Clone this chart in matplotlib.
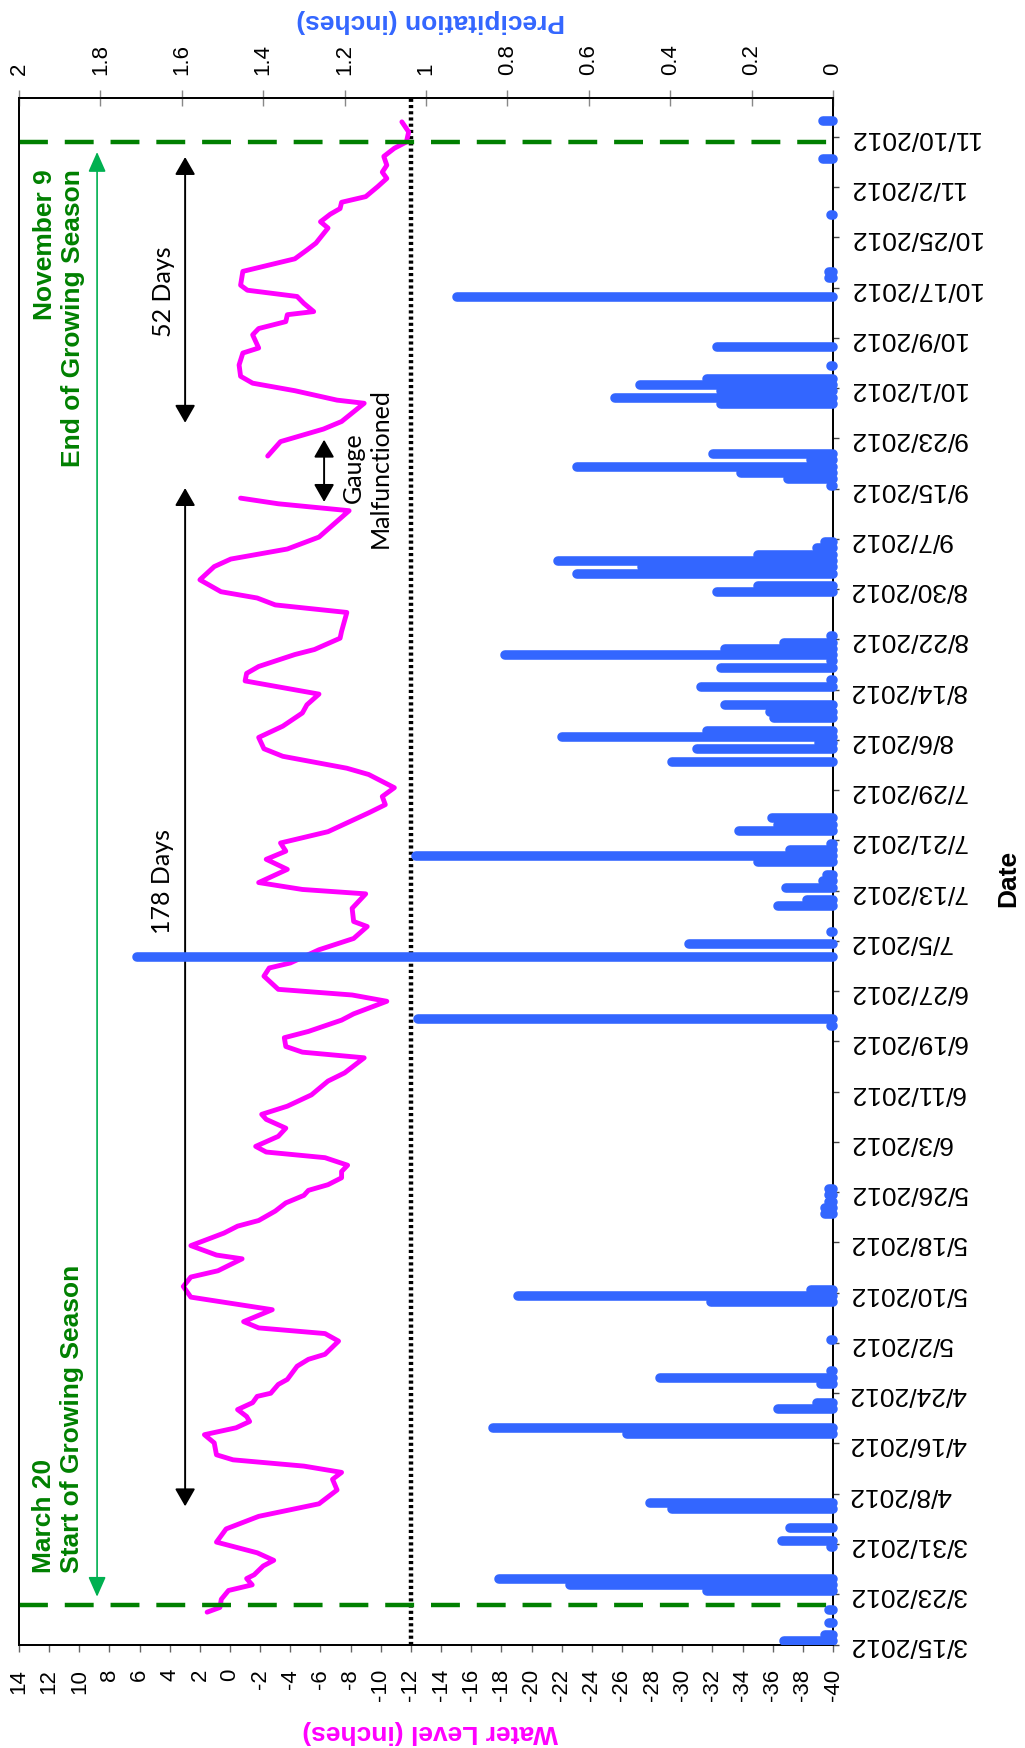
import numpy as np
import matplotlib
matplotlib.use("Agg")
import matplotlib.pyplot as plt
from matplotlib.patches import FancyArrowPatch, Rectangle

# ---------------------------------------------------------------
# Data (day values are counted from 3/15/2012)
# ---------------------------------------------------------------
# Daily precipitation totals (inches)
precip_day = [0, 1, 3, 5, 8, 9, 10, 15, 16, 18, 21, 22, 33, 34, 37, 38, 41, 42, 43, 48,
              54, 55, 56, 68, 69, 70, 71, 72, 98, 99, 109, 111, 113, 117, 118, 120, 121, 122,
              124, 125, 126, 127, 129, 130, 131, 140, 142, 143, 144, 145, 147, 148, 149,
              152, 153, 155, 156, 157, 158, 159, 160, 167, 168, 170, 171, 172, 173, 174, 175,
              184, 185, 186, 187, 188, 189, 197, 198, 199, 200, 201, 203, 206, 214, 217, 218,
              227, 236, 242]
precip_in = [0.12, 0.02, 0.01, 0.01, 0.31, 0.645, 0.82, 0.005, 0.125, 0.105, 0.395, 0.45,
             0.505, 0.835, 0.135, 0.04, 0.03, 0.425, 0.005, 0.005, 0.30, 0.775, 0.055,
             0.02, 0.02, 0.01, 0.01, 0.01, 0.005, 1.02, 1.71, 0.355, 0.005, 0.135, 0.065,
             0.115, 0.025, 0.015, 0.185, 1.025, 0.105, 0.005, 0.23, 0.135, 0.15, 0.395,
             0.335, 0.035, 0.665, 0.31, 0.145, 0.155, 0.265, 0.325, 0.005, 0.275, 0.005,
             0.805, 0.265, 0.12, 0.005, 0.285, 0.185, 0.63, 0.47, 0.675, 0.185, 0.04, 0.02,
             0.005, 0.11, 0.225, 0.63, 0.055, 0.295, 0.275, 0.535, 0.275, 0.475, 0.31,
             0.005, 0.285, 0.925, 0.01, 0.01, 0.005, 0.025, 0.025]

# Water level record (inches); NaN marks the gauge outage
wl_day = [5.15, 5.9, 7.2, 8.6, 9.5, 10.5, 11.1, 12.5, 13.4, 14.6, 16.3, 18.4, 20.4, 21.6,
          22.4, 24.6, 26.3, 27.4, 28.4, 29.4, 30.2, 32.1, 33.4, 34.5, 35.5, 36.3, 37.4,
          38.5, 39.5, 40.0, 41.4, 42.2, 44.3, 45.4, 46.2, 48.3, 49.5, 50.4, 51.4, 53.3,
          55.3, 57.0, 58.5, 59.5, 61.4, 62.0, 63.5, 65.5, 66.6, 67.5, 69.0, 70.3, 71.5,
          72.3, 73.2, 74.3, 75.3, 76.3, 77.5, 78.4, 79.3, 80.9, 82.2, 83.6, 84.4, 85.7,
          87.5, 89.7, 91.0, 93.4, 94.3, 95.2, 96.6, 97.6, 99.4, 100.4, 102.4, 103.4,
          104.3, 106.4, 107.7, 108.5, 110.6, 112.4, 114.3, 115.1, 117.2, 119.5, 120.2,
          121.3, 123.4, 125.0, 126.3, 127.6, 129.4, 132.4, 133.7, 135.0, 136.4, 138.5,
          139.5, 141.4, 142.6, 144.4, 146.2, 148.3, 149.6, 151.3, 153.4, 154.6, 155.7,
          157.6, 158.4, 160.2, 161.3, 164.3, 165.5, 166.6, 167.6, 169.5, 171.6, 172.8,
          174.4, 176.3, 178.2, 180.5, 181.6, 182.5, 186.0, 189.2, 191.5, 193.5, 194.7,
          197.6, 198.1, 199.6, 200.8, 201.9, 203.7, 205.6, 206.4, 208.5, 209.5, 210.6,
          211.7, 212.2, 213.5, 214.6, 215.6, 216.4, 218.6, 220.6, 222.0, 223.1, 225.5,
          226.5, 227.7, 228.6, 229.6, 230.5, 232.1, 233.4, 234.4, 235.5, 236.9, 238.2,
          239.2, 240.8, 242.4]
wl_in = [1.52, 0.67, 0.58, 0.1, -1.47, -1.1, -1.6, -2.2, -2.9, -1.8, 0.9, 0.26, -1.9, -4.3,
         -5.9, -7.1, -6.8, -7.4, -4.9, -0.2, 0.9, 1.05, 1.7, -0.4, -1.3, -1.1, -0.5,
         -1.5, -1.8, -2.7, -3.2, -3.8, -4.45, -5.2, -6.3, -7.2, -6.3, -1.9, -0.9, -2.8,
         2.6, 3.1, 2.6, 0.8, -0.8, 0.9, 2.6, 0.4, -0.5, -1.9, -3.0, -3.7, -4.9,
         -5.2, -6.5, -7.4, -7.4, -7.8, -6.3, -2.4, -1.7, -3.2, -3.7, -2.4, -2.1, -3.8,
         -5.4, -6.5, -7.6, -8.9, -4.8, -3.7, -3.6, -5.2, -7.4, -8.2, -10.4, -8.1,
         -3.2, -2.25, -2.6, -4.0, -5.9, -8.2, -9.1, -8.2, -8.1, -9.0, -4.8,
         -1.9, -3.8, -2.4, -3.7, -3.35, -6.5, -9.2, -10.3, -10.1, -10.9, -9.2,
         -7.75, -3.5, -2.25, -1.9, -3.5, -4.8, -5.1, -5.9, -1.0, -1.1, -1.9,
         -4.3, -5.6, -7.3, -7.4, -7.75, -3.0, -1.8, 0.6, 2.0, 1.05, -0.05,
         -3.8, -5.9, -6.8, -7.9, -3.2, -0.7, np.nan, -2.5, -3.35, -6.2, -7.4,
         -8.9, -7.1, -4.3, -1.5, -0.7, -0.6, -0.85, -1.9, -1.5, -1.9, -3.7,
         -3.8, -5.55, -4.9, -4.45, -1.15, -0.7, -0.85, -4.3, -5.1, -5.7, -6.5,
         -6.0, -6.65, -7.3, -7.4, -9.0, -9.8, -10.4, -10.1, -10.4, -10.2, -10.9,
         -11.7, -11.85, -11.4]

date_ticks = list(range(0, 241, 8))
date_labels = ["3/15/2012", "3/23/2012", "3/31/2012", "4/8/2012", "4/16/2012",
               "4/24/2012", "5/2/2012", "5/10/2012", "5/18/2012", "5/26/2012",
               "6/3/2012", "6/11/2012", "6/19/2012", "6/27/2012", "7/5/2012",
               "7/13/2012", "7/21/2012", "7/29/2012", "8/6/2012", "8/14/2012",
               "8/22/2012", "8/30/2012", "9/7/2012", "9/15/2012", "9/23/2012",
               "10/1/2012", "10/9/2012", "10/17/2012", "10/25/2012", "11/2/2012",
               "11/10/2012"]
wl_ticks = list(range(14, -41, -2))
wl_tick_labels = [str(v) for v in wl_ticks]
precip_ticks = [2.0, 1.8, 1.6, 1.4, 1.2, 1.0, 0.8, 0.6, 0.4, 0.2, 0.0]
precip_tick_labels = ["2", "1.8", "1.6", "1.4", "1.2", "1", "0.8", "0.6", "0.4", "0.2", "0"]

# Reference lines / markers
root_zone_level = -12          # inches
season_start_day = 6.25        # March 20
season_end_day = 239.2         # November 9

# ---------------------------------------------------------------
# Layout (chart is laid out sideways: dates run bottom -> top)
# ---------------------------------------------------------------
W, H = 1025, 1749
fig = plt.figure(figsize=(W / 100, H / 100), dpi=100)
ax_l, ax_r, ax_t, ax_b = 19, 833, 99, 1645.5
ax = fig.add_axes([ax_l / W, 1 - ax_b / H, (ax_r - ax_l) / W, (ax_b - ax_t) / H])

SANS = "Liberation Sans"
NOTE = "Lato"
MAGENTA = "#FF00FF"
BLUE = "#3366FF"
DKGREEN = "#008000"
LTGREEN = "#00B050"

ax.set_xlim(14, -40)
ax.set_ylim(0, 246.2)

# water level trace
ax.plot(wl_in, wl_day, color=MAGENTA, lw=3.5, solid_joinstyle="round",
        solid_capstyle="round", zorder=3)

# reference lines
ax.axvline(root_zone_level, color="black", lw=3.2, linestyle=(0, (0.7, 0.7)), zorder=2)
for d in (season_start_day, season_end_day):
    ax.axhline(d, color=DKGREEN, lw=3.2, linestyle=(0, (6.5, 3.8)), zorder=4)

# arrows
def double_arrow(x, y0, y1, color, lw, hl, hw):
    a = FancyArrowPatch((x, y0), (x, y1),
                        arrowstyle=f"<|-|>,head_length={hl},head_width={hw}",
                        mutation_scale=20, color=color, lw=lw,
                        shrinkA=0, shrinkB=0, zorder=5)
    ax.add_patch(a)

double_arrow(8.82, 7.6, 237.6, LTGREEN, 1.2, 0.61, 0.27)
double_arrow(2.98, 22.0, 184.1, "black", 1.4, 0.54, 0.31)
double_arrow(2.98, 194.5, 236.8, "black", 1.4, 0.54, 0.31)
double_arrow(-6.24, 181.9, 191.8, "black", 1.4, 0.54, 0.31)

# annotation text
ax.text(4.5, 121.6, "178 Days", rotation=90, ha="center", va="center",
        fontsize=18, family=NOTE, color="black", zorder=6)
ax.text(4.44, 215.6, "52 Days", rotation=90, ha="center", va="center",
        fontsize=18, family=NOTE, color="black", zorder=6)
ax.text(-9.09, 187.5, "Gauge\nMalfunctioned", rotation=90, ha="center", va="center",
        multialignment="center", fontsize=18, family=NOTE, color="black", zorder=6)
ax.text(11.4, 11.6, "March 20\nStart of Growing Season", rotation=90,
        ha="center", va="bottom", multialignment="left", fontsize=19,
        family=SANS, fontweight="bold", color=DKGREEN, zorder=6)
ax.text(11.35, 235.0, "November 9\nEnd of Growing Season", rotation=90,
        ha="center", va="top", multialignment="right", fontsize=19,
        family=SANS, fontweight="bold", color=DKGREEN, zorder=6)

# axis ticks: water level (bottom) and dates (right)
ax.set_xticks(wl_ticks)
ax.set_xticklabels(wl_tick_labels, rotation=90, va="top", ha="center",
                   fontsize=16, family=SANS)
ax.tick_params(axis="x", bottom=True, top=False, direction="out", length=5,
               width=1, color="#666666", pad=12)
ax.yaxis.tick_right()
ax.set_yticks(date_ticks)
ax.set_yticklabels(date_labels, rotation=180, va="center", ha="left",
                   fontsize=19, family=SANS)
ax.tick_params(axis="y", left=False, right=True, direction="out", length=4.5,
               width=1, color="#444444", pad=7)
for s in ax.spines.values():
    s.set_linewidth(1.3)

# precipitation on the twin axis (top)
ax2 = ax.twiny()
ax2.set_xlim(2, 0)
ax2.set_ylim(0, 246.2)
bars = ax2.hlines(np.asarray(precip_day) + 0.5, 0, precip_in, color=BLUE, lw=6.9,
                  zorder=3)
bars.set_capstyle("round")
bars.set_clip_path(Rectangle((0, 0), 1.01, 1, transform=ax2.transAxes))
ax2.set_xticks(precip_ticks)
ax2.set_xticklabels(precip_tick_labels, rotation=90, va="bottom", ha="center",
                    fontsize=16, family=SANS)
ax2.tick_params(axis="x", top=True, direction="inout", length=11, width=1,
                color="#888888", pad=12)
for s in ax2.spines.values():
    s.set_linewidth(1.3)

# axis titles
fig.text(431 / W, 1 - 21 / H, "Precipitation (inches)", rotation=180, ha="center",
         va="center", fontsize=19, fontweight="bold", family=SANS, color=BLUE)
fig.text(430 / W, 1 - 1732 / H, "Water Level (inches)", rotation=180, ha="center",
         va="center", fontsize=19, fontweight="bold", family=SANS, color=MAGENTA)
fig.text(1008 / W, 1 - 878 / H, "Date", rotation=90, ha="center", va="center",
         fontsize=19, fontweight="bold", family=SANS, color="black")

fig.savefig("out.png", dpi=100)
